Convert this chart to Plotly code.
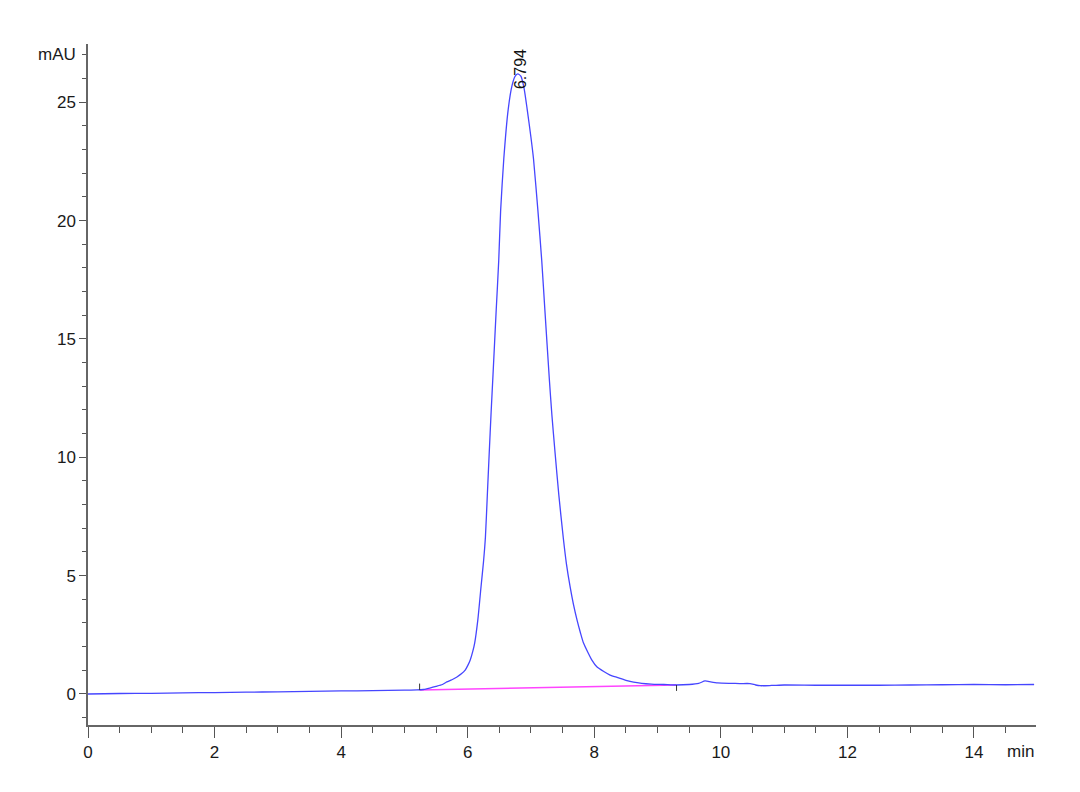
import plotly.graph_objects as go

# Chromatogram signal (time in min, absorbance in mAU)
time_min = [0.0, 0.5, 1.0, 1.5, 2.0, 2.5, 3.0, 3.5, 4.0, 4.5, 5.0, 5.2, 5.3, 5.4, 5.5,
            5.6, 5.67, 5.75, 5.83, 5.90, 5.96, 6.00, 6.04, 6.08, 6.11, 6.16, 6.21,
            6.25, 6.28, 6.31, 6.34, 6.37, 6.40, 6.45, 6.49, 6.52, 6.57, 6.64, 6.70,
            6.75, 6.79, 6.84, 6.89, 6.94, 7.00, 7.04, 7.11, 7.17, 7.22, 7.29, 7.33,
            7.38, 7.44, 7.51, 7.56, 7.62, 7.67, 7.73, 7.78, 7.83, 7.90, 7.96, 8.04,
            8.15, 8.25, 8.36, 8.50, 8.62, 8.75, 8.90, 9.10, 9.30, 9.50, 9.65, 9.75,
            9.82, 9.95, 10.15, 10.30, 10.46, 10.55, 10.62, 10.80, 11.0, 11.5, 12.0,
            12.5, 13.0, 13.5, 14.0, 14.5, 14.95]
signal_mau = [0.00, 0.02, 0.03, 0.05, 0.06, 0.08, 0.09, 0.11, 0.13, 0.14, 0.16, 0.17,
              0.19, 0.25, 0.32, 0.40, 0.51, 0.60, 0.72, 0.85, 1.01, 1.20, 1.44, 1.80,
              2.15, 3.13, 4.52, 5.60, 6.63, 8.40, 10.18, 11.9, 13.5, 16.2, 18.3, 20.4,
              22.6, 24.7, 25.7, 26.1, 26.2, 26.1, 25.6, 24.7, 23.5, 22.6, 20.4, 18.3,
              16.2, 13.3, 11.8, 10.2, 8.4, 6.6, 5.5, 4.5, 3.8, 3.1, 2.6, 2.15, 1.75,
              1.44, 1.15, 0.95, 0.80, 0.70, 0.58, 0.50, 0.45, 0.42, 0.40, 0.38, 0.40,
              0.45, 0.55, 0.52, 0.47, 0.45, 0.44, 0.44, 0.38, 0.35, 0.36, 0.38, 0.37,
              0.37, 0.37, 0.38, 0.39, 0.40, 0.39, 0.40]

# Integration baseline (start / end)
baseline_time = [5.24, 9.30]
baseline_mau = [0.17, 0.38]

# Peak label
peak_rt = 6.794
peak_label = "6.794"

x_ticks = [0, 2, 4, 6, 8, 10, 12, 14]
y_ticks = [0, 5, 10, 15, 20, 25]

AXIS_FONT = dict(family="Liberation Sans, Arial", size=17, color="#1a1a1a")

fig = go.Figure()
fig.add_trace(go.Scatter(x=baseline_time, y=baseline_mau, mode="lines",
                         line=dict(color="#ff44ff", width=1.6), hoverinfo="skip"))
fig.add_trace(go.Scatter(x=time_min, y=signal_mau, mode="lines",
                         line=dict(color="#4646ff", width=1.3, shape="spline", smoothing=0.6),
                         hoverinfo="skip"))
# baseline event ticks
fig.add_trace(go.Scatter(x=[baseline_time[0], baseline_time[0], None, baseline_time[1], baseline_time[1]],
                         y=[baseline_mau[0], baseline_mau[0] + 0.27, None, baseline_mau[1], baseline_mau[1] - 0.25],
                         mode="lines", line=dict(color="#333333", width=1), hoverinfo="skip"))

peak_y = max(signal_mau)
fig.add_annotation(x=peak_rt, y=peak_y + 0.2, text=peak_label, textangle=-90,
                   showarrow=False, xanchor="center", yanchor="middle", xshift=2,
                   font=dict(family="Liberation Sans, Arial", size=16, color="#111111"))
fig.add_annotation(xref="paper", x=0, y=27, text="mAU", showarrow=False,
                   xanchor="right", yanchor="middle", xshift=-10, font=AXIS_FONT)
fig.add_annotation(xref="paper", x=1, yref="paper", y=0, text="min", showarrow=False,
                   xanchor="right", yanchor="top", yshift=-15, font=AXIS_FONT)

fig.update_layout(
    width=1080, height=792,
    margin=dict(l=80, r=52, t=36, b=75),
    paper_bgcolor="white", plot_bgcolor="white",
    showlegend=False,
)
fig.update_xaxes(range=[0, 14.98], tickvals=x_ticks, ticktext=[str(v) for v in x_ticks],
                 showgrid=False, zeroline=False, showline=True, linecolor="#666666", linewidth=1.5,
                 ticks="outside", ticklen=11, tickwidth=1.2, tickcolor="#555555",
                 minor=dict(dtick=0.5, ticks="outside", ticklen=6, tickwidth=1.2, tickcolor="#555555", showgrid=False),
                 tickfont=AXIS_FONT)
fig.update_yaxes(range=[-1.31, 27.46], tickvals=y_ticks, ticktext=[str(v) for v in y_ticks],
                 showgrid=False, zeroline=False, showline=True, linecolor="#666666", linewidth=1.5,
                 ticks="outside", ticklen=7, tickwidth=1.2, tickcolor="#555555",
                 minor=dict(dtick=1, ticks="outside", ticklen=4, tickwidth=1.2, tickcolor="#555555", showgrid=False),
                 tickfont=AXIS_FONT)

fig.write_html("out.html")
